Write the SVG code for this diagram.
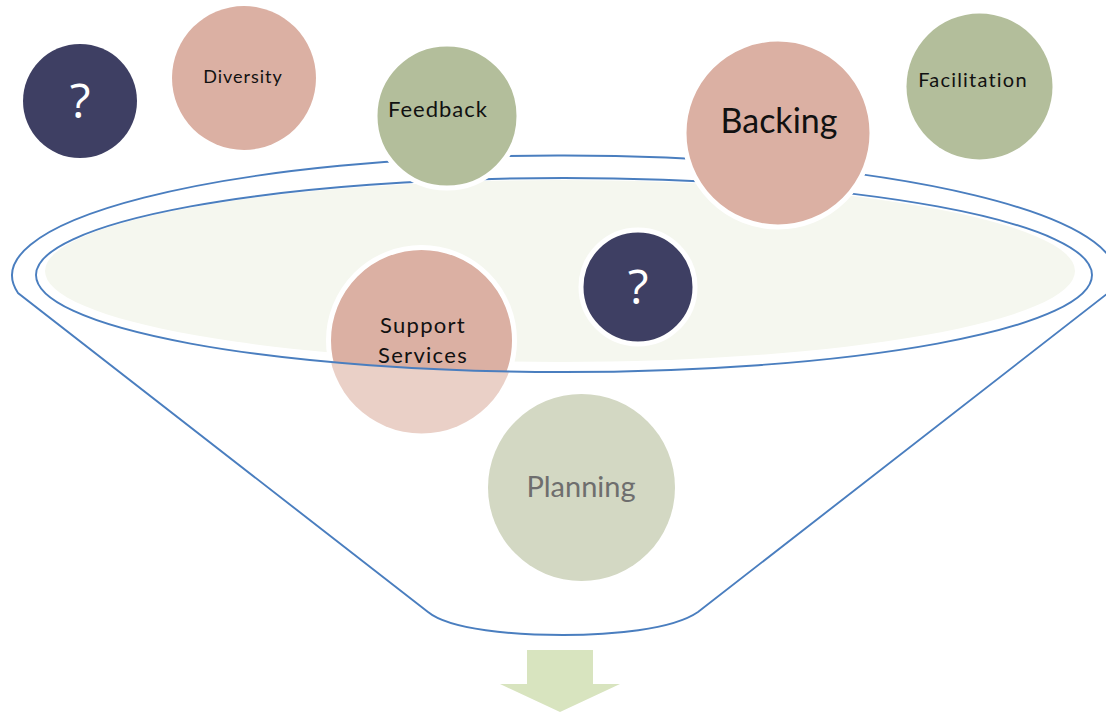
<svg xmlns="http://www.w3.org/2000/svg" width="1106" height="715" viewBox="0 0 1106 715">
<style>
.dark{fill:#3E3F63}
.rose{fill:#DBB0A3}
.green{fill:#B3BE9B}
.halo{stroke:#FFFFFF;stroke-width:5}
.rim{fill:none;stroke:#4A7EBF;stroke-width:1.9}
.lbl{font-family:Lato,"Open Sans","Liberation Sans",sans-serif;fill:#111111;text-anchor:middle}
.q{font-family:"Open Sans","Liberation Sans",sans-serif;fill:#FFFFFF;text-anchor:middle}
</style>
<defs>
<clipPath id="rimClip"><ellipse cx="564" cy="275" rx="528" ry="97"/></clipPath>
</defs>
<rect width="1106" height="715" fill="#FFFFFF"/>
<g id="funnel">
<ellipse cx="560" cy="271" rx="515" ry="91" fill="#F5F7EF"/>
</g>
<g id="node-support">
<circle cx="421.5" cy="340.5" r="93" fill="#EAD0C7"/>
<circle cx="421.5" cy="340.5" r="93" class="rose halo" clip-path="url(#rimClip)"/>
<text class="lbl" x="423" y="333" font-size="22" letter-spacing="1.3">Support</text>
<text class="lbl" x="423" y="363" font-size="22" letter-spacing="1.3">Services</text>
</g>
<g id="connectors">
<path class="rim" d="M428,612 L18,293 A552,120 0 1 1 1112,290 L698,612 C672,630 610,635 563,635 C515,635 450,630 428,612 Z"/>
<ellipse class="rim" cx="564" cy="275" rx="528" ry="97"/>
</g>
<g id="node-q1">
<circle cx="80" cy="101" r="57" class="dark"/>
<text class="q" x="80" y="118" font-size="48">?</text>
</g>
<g id="node-diversity">
<circle cx="244" cy="78" r="72" class="rose"/>
<text class="lbl" x="243" y="83" font-size="18" letter-spacing="1">Diversity</text>
</g>
<g id="node-feedback">
<circle cx="447" cy="116" r="72" class="green halo"/>
<text class="lbl" x="438" y="117" font-size="22" letter-spacing="1">Feedback</text>
</g>
<g id="node-backing">
<circle cx="778" cy="133" r="94" class="rose halo"/>
<text class="lbl" x="779" y="133" font-size="34">Backing</text>
</g>
<g id="node-facilitation">
<circle cx="979.5" cy="86.5" r="73" class="green"/>
<text class="lbl" x="973" y="87" font-size="20" letter-spacing="1.2">Facilitation</text>
</g>
<g id="node-q2">
<circle cx="638" cy="287" r="57" class="dark halo"/>
<text class="q" x="638" y="304" font-size="48">?</text>
</g>
<g id="node-planning">
<circle cx="581.5" cy="487.5" r="93.5" fill="#D3D8C3"/>
<text class="lbl" x="581" y="497" font-size="29" style="fill:#6E6E6E">Planning</text>
</g>
<g id="arrow">
<path d="M527,650 H593 V684 H620 L560,712 L500,684 H527 Z" fill="#D8E4BF"/>
</g>
</svg>
